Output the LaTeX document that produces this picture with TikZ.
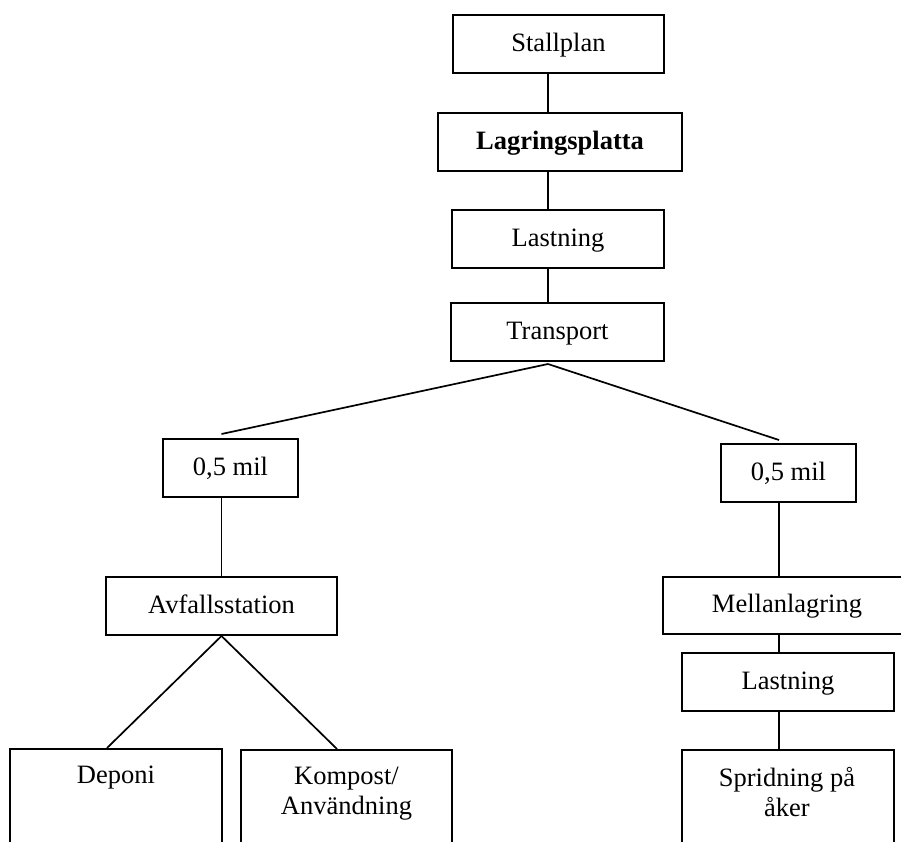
\documentclass[tikz,border=0pt]{standalone}
\usepackage{fontspec}
\setmainfont{Liberation Serif}
\usepackage{tikz}
\usetikzlibrary{positioning}

\tikzset{
  box/.style={draw,line width=1pt,inner sep=0pt,minimum height=29pt,text height=10pt,text depth=2.6pt,font=\fontsize{13.25}{15}\selectfont},
  leafbox/.style={draw,line width=1pt,inner sep=0pt,anchor=north,minimum width=106pt,minimum height=60pt},
  leaftext/.style={inner sep=0pt,anchor=north,align=center,font=\fontsize{13.25}{15}\selectfont},
  link/.style={line width=0.85pt}
}

\begin{document}
\begin{tikzpicture}[x=0.5pt,y=-0.5pt]
    \useasboundingbox (0,0) rectangle (901,842);
    \clip (0,0) rectangle (901,842);
    % main chain
    \node [box,minimum width=105.5pt] (stall) at (558.5,44) {Stallplan};
    \node [box,minimum width=122pt] (lager) at (560,142) {\bfseries Lagringsplatta};
    \node [box,minimum width=106pt] (last) at (558,239) {Lastning};
    \node [box,minimum width=106.5pt] (trans) at (557.5,332) {Transport};
    \coordinate (spine) at (548,0);
    \coordinate (rspine) at (779,0);
    % two branches
    \node [box,minimum width=67.5pt] (milA) at (230.5,468) {0,5 mil};
    \node [box,minimum width=67.5pt] (milB) at (788.5,473) {0,5 mil};
    \node [box,minimum width=115.5pt] (avf) at (221.5,606) {Avfallsstation};
    \node [box,minimum width=124pt,minimum height=28.5pt] (mell) at (787,605.5) {Mellanlagring};
    \node [box,minimum width=106pt] (lastB) at (788,682) {Lastning};
    % leaves, cut by the page edge
    \node [leafbox] (depo) at (116,748) {};
    \node [leafbox,minimum width=105.5pt] (komp) at (346.5,749) {};
    \node [leafbox] (sprid) at (788,749) {};
    \node [leaftext,below=9pt of depo.north] (depoT) {Deponi};
    \node [leaftext,below=9pt of komp.north] (kompT) {Kompost/\\Användning};
    \node [leaftext,below=9pt of sprid.north,xshift=-0.5pt] (spridT) {Spridning på\\åker};
    % connectors
    \draw[link] (stall.south -| spine) -- (lager.north -| spine);
    \draw[link] (lager.south -| spine) -- (last.north -| spine);
    \draw[link] (last.south -| spine) -- (trans.north -| spine);
    \draw[link] ([yshift=-1pt]trans.south -| spine) -- ([yshift=2pt]milA.north -| avf.north);
    \draw[link] ([yshift=-1pt]trans.south -| spine) -- ([yshift=1.5pt]milB.north -| rspine);
    \draw[link] (milA.south -| avf.north) -- (avf.north);
    \draw[link] (milB.south -| rspine) -- (mell.north -| rspine);
    \draw[link] (mell.south -| rspine) -- (lastB.north -| rspine);
    \draw[link] (lastB.south -| rspine) -- (sprid.north -| rspine);
    \draw[link] (avf.south) -- ([xshift=-4.5pt]depo.north);
    \draw[link] (avf.south) -- ([xshift=-4.75pt]komp.north);
\end{tikzpicture}
\end{document}
